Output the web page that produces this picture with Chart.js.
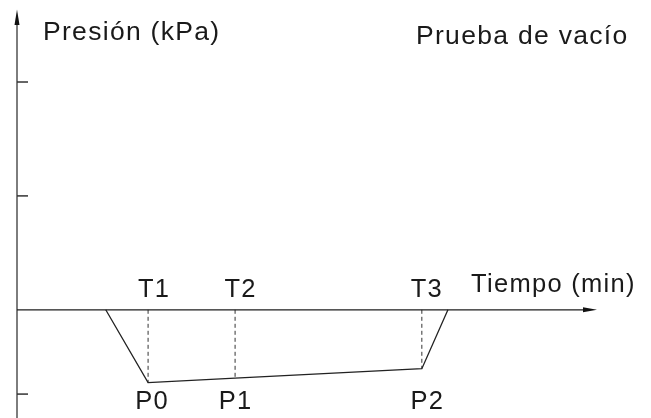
<!DOCTYPE html>
<html><head><meta charset="utf-8">
<script src="https://cdn.jsdelivr.net/npm/chart.js@4"></script>
<style>html,body{margin:0;padding:0;background:#fff}#wrap{width:651px;height:418px}</style>
</head><body><div id="wrap"><canvas id="c" width="651" height="418"></canvas></div>
<script>
// ---- data ----
const timeLabels = ['T1', 'T2', 'T3'];
const timeValues = [22.6, 37.6, 69.8];
const pressureLabels = ['P0', 'P1', 'P2'];
const pressureValues = [-0.64, -0.60, -0.517];
const startTime = 15.3;
const endTime = 74.3;
const yTickValues = [2, 1, 0, -0.74];
const yAxisTitle = 'Presión (kPa)';
const xAxisTitle = 'Tiempo (min)';
const chartTitle = 'Prueba de vacío';

// ---- datasets built from the arrays ----
const profile = [{x: startTime, y: 0}]
  .concat(timeValues.map((t, i) => ({x: t, y: pressureValues[i]})))
  .concat([{x: endTime, y: 0}]);

const datasets = [{
  data: profile,
  borderColor: '#222',
  borderWidth: 1.3,
  pointRadius: 0,
  tension: 0,
  clip: false
}].concat(timeValues.map((t, i) => ({
  data: [{x: t, y: 0}, {x: t, y: pressureValues[i]}],
  borderColor: '#333',
  borderWidth: 1,
  borderDash: [4, 3],
  pointRadius: 0,
  clip: false
})));

const labelOffsetsT = [6, 5.5, 5];
const labelOffsetsP = [4, 0.5, 5.5];

const axisPlugin = {
  id: 'axes',
  afterDatasetsDraw(chart) {
    const {ctx, chartArea, scales: {x, y}} = chart;
    const x0 = x.getPixelForValue(0);
    const y0 = y.getPixelForValue(0);
    ctx.save();
    // y axis
    const yTip = y.getPixelForValue(2.637);
    const yBase = y.getPixelForValue(2.50);
    ctx.strokeStyle = '#7d7d7d';
    ctx.lineWidth = 2;
    ctx.beginPath();
    ctx.moveTo(x0, chartArea.bottom);
    ctx.lineTo(x0, yBase);
    ctx.stroke();
    ctx.fillStyle = '#111';
    ctx.beginPath();
    ctx.moveTo(x0, yTip);
    ctx.lineTo(x0 - 2.5, yBase);
    ctx.lineTo(x0 + 2.5, yBase);
    ctx.closePath();
    ctx.fill();
    // y ticks
    ctx.strokeStyle = '#333';
    ctx.lineWidth = 1.5;
    yTickValues.forEach(v => {
      if (v === 0) return;
      const py = y.getPixelForValue(v);
      ctx.beginPath();
      ctx.moveTo(x0, py);
      ctx.lineTo(x0 + 11, py);
      ctx.stroke();
    });
    // x axis
    const xTip = x.getPixelForValue(100);
    const xBase = xTip - 14;
    ctx.strokeStyle = '#1e1e1e';
    ctx.lineWidth = 1.3;
    ctx.beginPath();
    ctx.moveTo(x0, y0);
    ctx.lineTo(xBase, y0);
    ctx.stroke();
    ctx.fillStyle = '#111';
    ctx.beginPath();
    ctx.moveTo(xTip, y0);
    ctx.lineTo(xBase, y0 - 2.5);
    ctx.lineTo(xBase, y0 + 2.5);
    ctx.closePath();
    ctx.fill();

    // texts
    ctx.fillStyle = '#1a1a1a';
    ctx.textBaseline = 'alphabetic';
    ctx.letterSpacing = '1.3px';
    ctx.font = '26.5px "Liberation Sans", Arial, sans-serif';
    ctx.textAlign = 'left';
    ctx.fillText(yAxisTitle, x0 + 26, 40);
    ctx.fillText(chartTitle, 416, 44);
    ctx.font = '25.5px "Liberation Sans", Arial, sans-serif';
    ctx.fillText(xAxisTitle, 471, 291.5);
    ctx.textAlign = 'center';
    timeValues.forEach((t, i) => {
      ctx.fillText(timeLabels[i], x.getPixelForValue(t) + labelOffsetsT[i], y0 - 12.5);
    });
    pressureValues.forEach((p, i) => {
      ctx.fillText(pressureLabels[i], x.getPixelForValue(timeValues[i]) + labelOffsetsP[i], 409);
    });
    ctx.restore();
  }
};

new Chart(document.getElementById('c'), {
  type: 'line',
  data: {datasets},
  options: {
    responsive: false,
    animation: false,
    devicePixelRatio: 1,
    layout: {padding: {left: 17, right: 54, top: 0, bottom: 0}},
    plugins: {legend: {display: false}, tooltip: {enabled: false}},
    scales: {
      x: {type: 'linear', min: 0, max: 100, display: false},
      y: {type: 'linear', min: -0.95, max: 2.72, display: false}
    }
  },
  plugins: [axisPlugin]
});
</script>
</body></html>
